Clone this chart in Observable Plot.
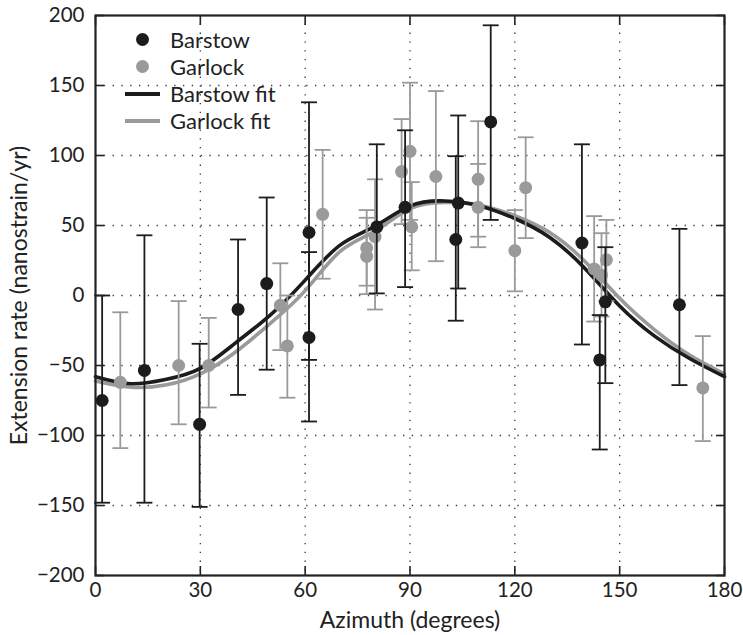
<!DOCTYPE html>
<html><head><meta charset="utf-8">
<script src="https://cdn.jsdelivr.net/npm/d3@7"></script>
<script src="https://cdn.jsdelivr.net/npm/@observablehq/plot@0.6"></script>
<style>
body{margin:0;background:#fff;}
#wrap{position:relative;width:743px;height:635px;font-family:Lato, sans-serif;}
.legend{position:absolute;left:118px;top:26px;font-size:22px;color:#222;font-family:Lato, sans-serif;}
.row{display:flex;align-items:center;height:27px;}
.sw{width:52px;height:27px;position:relative;}
.dotb{position:absolute;left:18px;top:7px;width:13px;height:13px;border-radius:50%;}
.lin{position:absolute;left:7px;top:11.5px;width:35px;height:4px;}
</style></head><body><div id="wrap"></div>
<script>
const xTicks = [0, 30, 60, 90, 120, 150, 180];
const yTicks = [-200, -150, -100, -50, 0, 50, 100, 150, 200];
const xTitle = "Azimuth (degrees)";
const yTitle = "Extension rate (nanostrain/yr)";

const barstowAz   = [1.9, 14.0, 29.8, 40.8, 49.0, 61.1, 61.1, 80.5, 88.6, 103.1, 103.8, 113.1, 139.2, 144.3, 145.9, 167.1];
const barstowRate = [-75, -53.5, -92, -10, 8.5, 45, -30, 49, 63, 40, 66, 124, 37.5, -46, -4.5, -6.6];
const barstowLo   = [-148, -148, -151, -71, -53, -46, -90, 1.5, 6, -18, 5, 54, -35, -110, -62.6, -64];
const barstowHi   = [0, 43, -34.5, 40, 70, 138, 31, 108, 118, 99.5, 128.6, 193, 108, -14, 34.5, 47.6];

const garlockAz   = [7.1, 23.8, 32.4, 52.9, 54.9, 65.0, 77.6, 77.6, 80.0, 87.6, 90.0, 90.5, 97.4, 109.5, 109.5, 120.0, 123.1, 142.7, 144.8, 146.2, 173.8];
const garlockRate = [-62, -50, -50, -7, -36, 58, 34, 28, 42, 88.5, 103, 49, 85, 83, 63, 32, 77, 19, 14.5, 25.5, -66];
const garlockLo   = [-109, -92, -80, -39, -73, 12, 7, 1, -10, 51, 54, 18, 24.5, 42, 34.5, 3, 41, -18.6, -15, -4, -104];
const garlockHi   = [-12, -4, -16, 23, 0, 104, 61, 55.5, 83, 126, 152, 81, 146, 124.5, 94, 61, 113, 56.7, 44.5, 54, -29];

const fitAz      = [0, 10, 20, 30, 40, 50, 60, 70, 80, 90, 100, 110, 120, 130, 140, 150, 160, 170, 180];
const barstowFit = [-58, -63, -60, -52, -34, -14, 11, 36, 49.5, 64, 67.5, 64, 55, 41.5, 19.5, -7.5, -29, -45, -58];
const garlockFit = [-61, -65.5, -64, -56, -40.5, -20, 3.5, 31.5, 46, 62, 66.5, 64.5, 57, 45, 24.5, -2, -24.5, -42.5, -56];

const BLACK = "#1c1c1c", GRAY = "#9a9a9a";

const barstow = barstowAz.map((a, i) => ({az: a, rate: barstowRate[i], lo: barstowLo[i], hi: barstowHi[i]}));
const garlock = garlockAz.map((a, i) => ({az: a, rate: garlockRate[i], lo: garlockLo[i], hi: garlockHi[i]}));
const bFit = fitAz.map((a, i) => ({az: a, v: barstowFit[i]}));
const gFit = fitAz.map((a, i) => ({az: a, v: garlockFit[i]}));

const cap = {draw(ctx, size) { const w = Math.sqrt(size); ctx.moveTo(-w / 2, 0); ctx.lineTo(w / 2, 0); }};

function errMarks(data, color) {
  return [
    Plot.ruleX(data, {x: "az", y1: "lo", y2: "hi", stroke: color, strokeWidth: 1.8}),
    Plot.dot(data, {x: "az", y: "lo", symbol: cap, r: 9, stroke: color, strokeWidth: 1.8, fill: "none"}),
    Plot.dot(data, {x: "az", y: "hi", symbol: cap, r: 9, stroke: color, strokeWidth: 1.8, fill: "none"}),
    Plot.dot(data, {x: "az", y: "rate", r: 6.5, fill: color, stroke: "none"})
  ];
}

const grid = {stroke: "#222", strokeOpacity: 0.9, strokeWidth: 1.3, strokeDasharray: "1.3,7.5"};

const chart = Plot.plot({
  width: 743, height: 635,
  marginLeft: 95, marginRight: 19, marginTop: 15, marginBottom: 60,
  style: {fontFamily: "Lato, sans-serif", fontSize: "20px", color: "#222", background: "white"},
  x: {domain: [0, 180]},
  y: {domain: [-200, 200]},
  marks: [
    Plot.gridX(xTicks.slice(1, -1), {...grid}),
    Plot.gridY(yTicks.slice(1, -1), {...grid}),
    Plot.line(gFit, {x: "az", y: "v", curve: "natural", stroke: GRAY, strokeWidth: 3.6}),
    Plot.line(bFit, {x: "az", y: "v", curve: "natural", stroke: BLACK, strokeWidth: 3.6}),
    ...errMarks(garlock, GRAY),
    ...errMarks(barstow, BLACK),
    Plot.axisX(xTicks, {anchor: "bottom", tickSize: -9, tickPadding: 16, stroke: "#222", strokeWidth: 1.6, label: null, fontSize: 20.5}),
    Plot.axisX(xTicks, {anchor: "top", tickSize: -9, tickFormat: () => "", stroke: "#222", strokeWidth: 1.6, label: null}),
    Plot.axisY(yTicks, {anchor: "left", tickSize: -9, tickPadding: 20, stroke: "#222", strokeWidth: 1.6, label: null, fontSize: 20.5}),
    Plot.axisY(yTicks, {anchor: "right", tickSize: -9, tickFormat: () => "", stroke: "#222", strokeWidth: 1.6, label: null}),
    Plot.text([xTitle], {frameAnchor: "bottom", dy: 45, fontSize: 23, fill: "#222", textAnchor: "middle", lineAnchor: "middle"}),
    Plot.text([yTitle], {frameAnchor: "left", dx: -76, rotate: -90, fontSize: 23, fill: "#222", textAnchor: "middle", lineAnchor: "middle"}),
    Plot.frame({stroke: "#222", strokeWidth: 2.2})
  ]
});

const wrap = document.getElementById("wrap");
wrap.appendChild(chart);
const legend = document.createElement("div");
legend.className = "legend";
const items = [
  {label: "Barstow", kind: "dot", color: BLACK},
  {label: "Garlock", kind: "dot", color: GRAY},
  {label: "Barstow fit", kind: "line", color: BLACK},
  {label: "Garlock fit", kind: "line", color: GRAY}
];
for (const it of items) {
  const row = document.createElement("div"); row.className = "row";
  const sw = document.createElement("div"); sw.className = "sw";
  const m = document.createElement("div");
  m.className = it.kind === "dot" ? "dotb" : "lin";
  m.style.background = it.color;
  sw.appendChild(m);
  const t = document.createElement("span"); t.textContent = it.label;
  row.appendChild(sw); row.appendChild(t);
  legend.appendChild(row);
}
wrap.appendChild(legend);
</script></body></html>
